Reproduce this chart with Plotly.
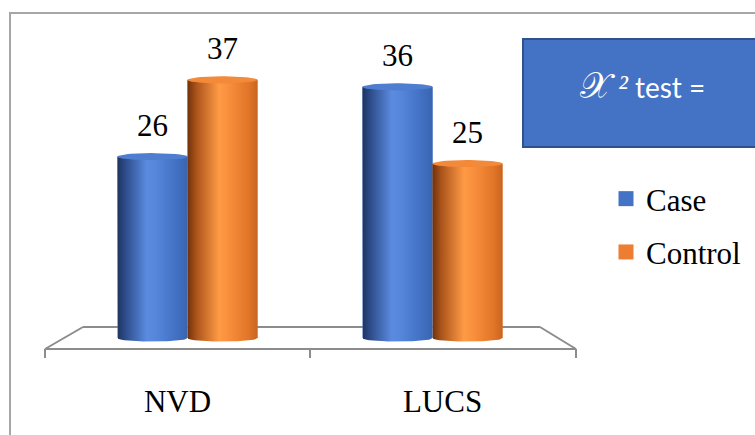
import numpy as np
import plotly.graph_objects as go

categories = ["NVD", "LUCS"]
case_values = [26, 36]
control_values = [37, 25]
series_names = ["Case", "Control"]

W, H = 755, 435
ML, MR, MT, MB = 65, 200, 31, 83
Y_RANGE = [-2, 44]
X_RANGE = [-0.5, 1.5]
PW, PH = W - ML - MR, H - MT - MB

def px(x):
    return (x - ML) / PW

def py(y):
    return (H - MB - y) / PH

BAR_W = 0.2857
ELL_B = 0.5
LABEL_SPREAD = 0.041

serif = "Liberation Serif"

series = [
    dict(name=series_names[0], values=case_values, offset=-BAR_W, color="#4472C4",
         grad=[[0, "#1E3460"], [0.12, "#2E4E8C"], [0.42, "#5B8BE0"], [0.55, "#5686DA"], [0.85, "#4170C2"], [1, "#3A64B0"]],
         cap="#4F7ED0"),
    dict(name=series_names[1], values=control_values, offset=0.0, color="#ED7D31",
         grad=[[0, "#6E320C"], [0.12, "#A9521A"], [0.45, "#FF9A45"], [0.6, "#F88E3C"], [0.88, "#E07428"], [1, "#C9651F"]],
         cap="#F28A3A"),
]

fig = go.Figure()

for s in series:
    fig.add_trace(go.Bar(
        x=list(range(len(categories))), y=s["values"], name=s["name"],
        width=BAR_W, offset=s["offset"], marker=dict(color=s["color"], line=dict(width=0)),
        showlegend=False, hoverinfo="skip",
    ))

t = np.linspace(0, np.pi, 40)
tt = np.linspace(0, 2 * np.pi, 60)
for s in series:
    for i, v in enumerate(s["values"]):
        x0 = i + s["offset"]
        x1 = x0 + BAR_W
        xc = (x0 + x1) / 2
        a = BAR_W / 2
        bx = xc - a * np.cos(t)
        by = -ELL_B * np.sin(t)
        tx = xc + a * np.cos(t)
        ty = v - ELL_B * np.sin(t)
        xs = np.concatenate([[x0], bx, [x1], tx])
        ys = np.concatenate([[v], by, [v], ty])
        fig.add_trace(go.Scatter(
            x=xs, y=ys, mode="lines", line=dict(width=0), fill="toself",
            fillgradient=dict(type="horizontal", colorscale=s["grad"]),
            showlegend=False, hoverinfo="skip",
        ))
        fig.add_trace(go.Scatter(
            x=xc + a * np.cos(tt), y=v + ELL_B * np.sin(tt), mode="lines",
            line=dict(width=0), fill="toself", fillcolor=s["cap"],
            showlegend=False, hoverinfo="skip",
        ))
        fig.add_annotation(x=xc, y=v, xref="x", yref="y", text=str(v), showarrow=False,
                           yanchor="bottom", yshift=12, font=dict(family=serif, size=31, color="black"))

# legend entries (square swatches)
for s in series:
    fig.add_trace(go.Scatter(
        x=[None], y=[None], mode="markers", name=s["name"], legendgroup=s["name"],
        marker=dict(symbol="square", size=15, color=s["color"]), showlegend=True, hoverinfo="skip",
    ))

gray = "#8C8C8C"
shapes = []
shapes.append(dict(type="rect", xref="paper", yref="paper", x0=px(10), y0=py(700), x1=px(1200), y1=py(13),
                   line=dict(color="#A6A6A6", width=2), fillcolor="rgba(0,0,0,0)", layer="below"))
floor_lines = [((83, 327), (540, 327)), ((83, 327), (45, 349)), ((540, 327), (576, 349)),
               ((45, 349), (576, 349)), ((45, 349), (45, 358)), ((310, 349), (310, 358)), ((576, 349), (576, 358))]
for (a0, b0), (a1, b1) in floor_lines:
    shapes.append(dict(type="line", xref="paper", yref="paper", x0=px(a0), y0=py(b0), x1=px(a1), y1=py(b1),
                       line=dict(color=gray, width=2), layer="below"))
shapes.append(dict(type="rect", xref="paper", yref="paper", x0=px(523), y0=py(147), x1=px(800), y1=py(39),
                   line=dict(color="#2F528F", width=2), fillcolor="#4472C4", layer="above"))
fig.add_annotation(xref="paper", yref="paper", x=px(642), y=py(84), showarrow=False,
                   xanchor="center", yanchor="middle",
                   text='<span style="font-size:36px">𝒳</span> '
                        '<span style="font-family:Liberation Serif;font-size:32px"><i>²</i></span> test =',
                   font=dict(family="Lato", size=28, color="white"))

tick_pos = [i + (i - (len(categories) - 1) / 2) * 2 * LABEL_SPREAD for i in range(len(categories))]

fig.update_layout(
    width=W, height=H, margin=dict(l=ML, r=MR, t=MT, b=MB, autoexpand=False),
    paper_bgcolor="white", plot_bgcolor="white",
    barmode="overlay", shapes=shapes,
    xaxis=dict(range=X_RANGE, tickvals=tick_pos, ticktext=categories,
               showgrid=False, zeroline=False, showline=False, ticks="",
               tickfont=dict(family=serif, size=31, color="black"), ticklabelstandoff=28),
    yaxis=dict(range=Y_RANGE, visible=False),
    legend=dict(x=px(606), y=py(172), xanchor="left", yanchor="top",
                font=dict(family=serif, size=31, color="black"), bgcolor="rgba(0,0,0,0)",
                traceorder="grouped", tracegroupgap=10, itemclick=False, itemsizing="trace"),
    showlegend=True,
)

fig.write_html("out.html")
